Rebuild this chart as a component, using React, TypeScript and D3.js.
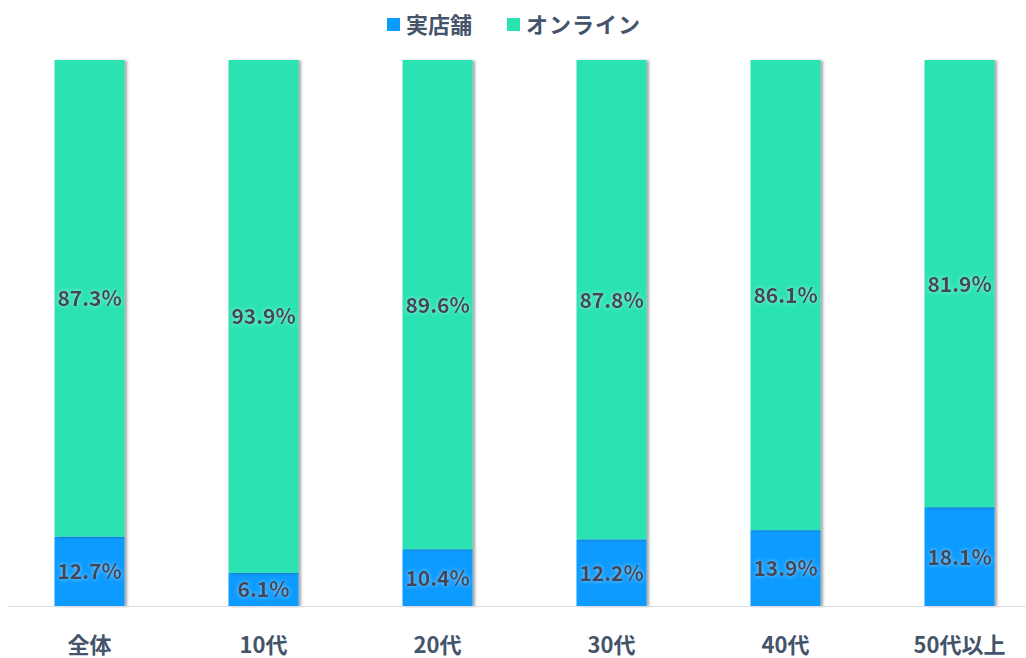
import React from "react";
import * as d3 from "d3";

const categories = ["全体", "10代", "20代", "30代", "40代", "50代以上"];
const storeValues = [12.7, 6.1, 10.4, 12.2, 13.9, 18.1];
const onlineValues = [87.3, 93.9, 89.6, 87.8, 86.1, 81.9];
const seriesNames = ["実店舗", "オンライン"];
const seriesColors = ["#0A9BFF", "#29E2B2"];

const W = 1026;
const H = 658;
const FONT = "'Noto Sans CJK JP', 'Noto Sans', sans-serif";
const TEXT = "#44546A";

export default function App() {
  const x = d3.scalePoint<string>().domain(categories).range([89.5, 959.5]);
  const y = d3.scaleLinear().domain([0, 100]).range([606, 60]);
  const bw = 70;
  const rows = categories.map((c, i) => ({ c, s: storeValues[i], o: onlineValues[i] }));
  const stack = d3.stack<any>().keys(["s", "o"])(rows as any);

  return (
    <div style={{ position: "absolute", left: 0, top: 0 }}>
      <svg width={W} height={H} style={{ display: "block" }}>
        <defs>
          <filter id="barShadow" x="-20%" y="-5%" width="150%" height="110%">
            <feDropShadow dx="2.5" dy="0.5" stdDeviation="1.2" floodColor="#000" floodOpacity="0.35" />
          </filter>
          <filter id="glow" x="-20%" y="-40%" width="140%" height="180%">
            <feGaussianBlur in="SourceAlpha" stdDeviation="2" result="b" />
            <feFlood floodColor="#ffffff" floodOpacity="0.5" />
            <feComposite in2="b" operator="in" result="g" />
            <feMerge>
              <feMergeNode in="g" />
              <feMergeNode in="SourceGraphic" />
            </feMerge>
          </filter>
        </defs>
        <rect width={W} height={H} fill="#fff" />
        {/* legend */}
        <g fontFamily={FONT} fontWeight="bold" fontSize={22} fill={TEXT}>
          <rect x={387} y={18} width={13} height={13} fill={seriesColors[0]} />
          <text x={406} y={33}>{seriesNames[0]}</text>
          <rect x={507} y={18} width={13} height={13} fill={seriesColors[1]} />
          <text x={526} y={33} letterSpacing={1}>{seriesNames[1]}</text>
        </g>
        {/* bars */}
        {stack.map((layer, li) => (
          <g key={li}>
            {layer.map((d, i) => (
              <rect
                key={i}
                x={(x(categories[i]) as number) - bw / 2}
                y={y(d[1])}
                width={bw}
                height={y(d[0]) - y(d[1])}
                fill={seriesColors[li]}
                filter="url(#barShadow)"
              />
            ))}
          </g>
        ))}
        {/* axis line */}
        <line x1={8} x2={1026} y1={606.5} y2={606.5} stroke="#D9DDE3" strokeWidth={1} />
        {/* labels */}
        {stack.map((layer, li) => (
          <g key={"l" + li} fontFamily={FONT} fontWeight="bold" fontSize={21} fill="#404656" textAnchor="middle" filter="url(#glow)">
            {layer.map((d, i) => (
              <text key={i} x={x(categories[i]) as number} y={(y(d[0]) + y(d[1])) / 2 + 8}>
                {(li === 0 ? storeValues[i] : onlineValues[i]).toFixed(1)}%
              </text>
            ))}
          </g>
        ))}
        {/* categories */}
        <g fontFamily={FONT} fontWeight="bold" fontSize={22} fill={TEXT} textAnchor="middle">
          {categories.map((c) => (
            <text key={c} x={x(c) as number} y={653}>{c}</text>
          ))}
        </g>
      </svg>
    </div>
  );
}
